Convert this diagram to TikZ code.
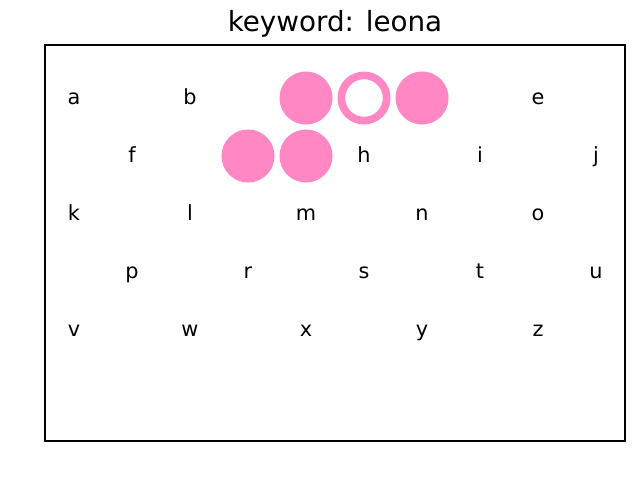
\documentclass[tikz,border=0pt]{standalone}
\usepackage{fontspec}
\setmainfont{DejaVu Sans}
\usepackage{xcolor}
\usepackage{tikz}
\usetikzlibrary{positioning}
\definecolor{keypink}{RGB}{255,135,195}

\begin{document}
\begin{tikzpicture}[
  x=0.72pt, y=-0.72pt,
  letter/.style={inner sep=0pt, anchor=center, text height=12pt, text depth=3pt,
                 font=\fontsize{15}{18}\selectfont},
  dot/.style={circle, fill=keypink, inner sep=0pt, outer sep=0pt, minimum size=38.2pt},
  ring/.style={circle, draw=keypink, line width=5.5pt, inner sep=0pt, outer sep=0pt,
               minimum size=32.6pt},
  heading/.style={inner sep=0pt, anchor=base, font=\fontsize{20}{24}\selectfont}
]
\useasboundingbox (0,0) rectangle (640,480);
\node[heading] (title) at (335,31) {keyword: leona};
\draw[line width=0.8pt] (45,45) rectangle (625,441);
% hits
\node[dot] (hit1) at (306,98) {};
\node[ring] (hit2) at (364,98) {};
\node[dot] (hit3) at (422,98) {};
\node[dot] (hit4) at (248,156) {};
\node[dot] (hit5) at (306,156) {};
% row 1
\node[letter] (ka) at (74,98) {a};
\node[letter] (kb) at (190,98) {b};
\node[letter] (ke) at (538,98) {e};
% row 2
\node[letter] (kf) at (132,156) {f};
\node[letter] (kh) at (364,156) {h};
\node[letter] (ki) at (480,156) {i};
\node[letter] (kj) at (596,156) {j};
% row 3
\node[letter] (kk) at (74,214) {k};
\node[letter] (kl) at (190,214) {l};
\node[letter] (km) at (306,214) {m};
\node[letter] (kn) at (422,214) {n};
\node[letter] (ko) at (538,214) {o};
% row 4
\node[letter] (kp) at (132,272) {p};
\node[letter] (kr) at (248,272) {r};
\node[letter] (ks) at (364,272) {s};
\node[letter] (kt) at (480,272) {t};
\node[letter] (ku) at (596,272) {u};
% row 5
\node[letter] (kv) at (74,330) {v};
\node[letter] (kw) at (190,330) {w};
\node[letter] (kx) at (306,330) {x};
\node[letter] (ky) at (422,330) {y};
\node[letter] (kz) at (538,330) {z};
\end{tikzpicture}
\end{document}
